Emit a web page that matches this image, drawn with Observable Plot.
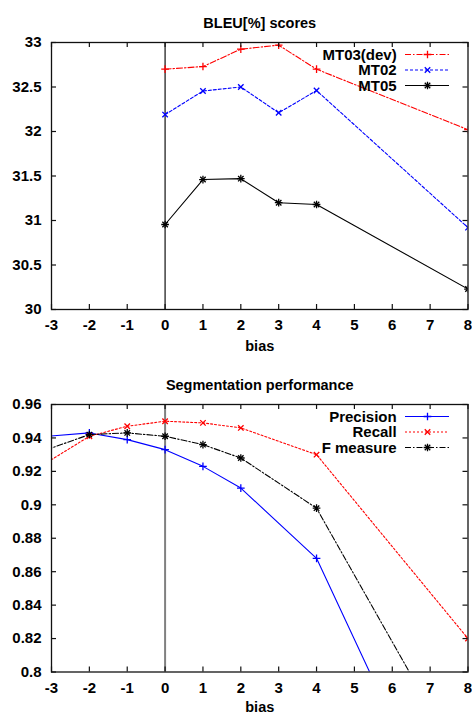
<!DOCTYPE html>
<html><head><meta charset="utf-8">
<script src="https://cdn.jsdelivr.net/npm/d3@7"></script>
<script src="https://cdn.jsdelivr.net/npm/@observablehq/plot@0.6"></script>
<style>
body{margin:0;background:#fff;}
#c svg{display:block;overflow:hidden;}
</style>
</head><body><div id="c"></div>
<script>
// ---- data ----
const xTicks = [-3,-2,-1,0,1,2,3,4,5,6,7,8];

const bleuBias = [0,1,2,3,4,8];
const mt03 = [32.70,32.73,32.925,32.97,32.70,32.02];
const mt02 = [32.19,32.455,32.50,32.21,32.46,30.92];
const mt05 = [30.955,31.46,31.47,31.20,31.18,30.23];
const bleuTicks = [30,30.5,31,31.5,32,32.5,33];

const segBias = [-4,-2,-1,0,1,2,4,8];
const precision = [0.9394,0.943,0.939,0.933,0.923,0.910,0.868,0.674];
const recall    = [0.913,0.941,0.947,0.950,0.949,0.946,0.930,0.820];
const fmeasure  = [0.926,0.942,0.943,0.941,0.936,0.928,0.898,0.738];
const segTicks = [0.8,0.82,0.84,0.86,0.88,0.9,0.92,0.94,0.96];

const FONT = '"Liberation Sans", Arial, Helvetica, sans-serif';
const W = 472, ML = 51, MR = 4.5, MT = 42;
const R = 2.6;

function symbolsFor(kind){
  return kind === "star" ? ["plus","times"] : [kind];
}
function d3Sym(name){ return name === "plus" ? d3.symbolPlus : d3.symbolTimes; }

function panel({title, bias, series, yDomain, yTicks, height, marginBottom, zeroStroke, zeroWidth, biasDy}){
  const plotW = W - ML - MR, plotH = height - MT - marginBottom;
  const marks = [];
  marks.push(Plot.ruleX([0], {stroke: zeroStroke, strokeWidth: zeroWidth}));
  for (const s of series){
    const data = bias.map((b,i) => ({x:b, y:s.values[i]}));
    marks.push(Plot.line(data, {x:"x", y:"y", stroke:s.color, strokeWidth:1.1, strokeDasharray:s.dash, clip:true}));
    for (const sym of symbolsFor(s.symbol))
      marks.push(Plot.dot(data, {x:"x", y:"y", symbol:sym, r:R, stroke:s.color, strokeWidth:1.3, clip:true}));
  }
  marks.push(Plot.frame({stroke:"#111", strokeWidth:1.3}));
  marks.push(Plot.tickX(xTicks, {x:d=>d, insetTop: plotH-5, stroke:"#111", strokeWidth:1.2}));
  marks.push(Plot.tickX(xTicks, {x:d=>d, insetBottom: plotH-5, stroke:"#111", strokeWidth:1.2}));
  marks.push(Plot.tickY(yTicks, {y:d=>d, insetRight: plotW-5, stroke:"#111", strokeWidth:1.2}));
  marks.push(Plot.tickY(yTicks, {y:d=>d, insetLeft: plotW-5, stroke:"#111", strokeWidth:1.2}));
  marks.push(Plot.axisX(xTicks, {tickSize:0, tickPadding:10, fontSize:15, fontWeight:"bold", fontFamily:FONT, tickFormat:d=>String(d), label:null, fill:"#000"}));
  marks.push(Plot.axisY(yTicks, {tickSize:0, tickPadding:10, fontSize:15, fontWeight:"bold", fontFamily:FONT, tickFormat:d=>String(d), label:null, fill:"#000"}));
  marks.push(Plot.text([title], {frameAnchor:"top", dy:-25, fontSize:14.5, fontWeight:"bold", fontFamily:FONT, fill:"#000"}));
  marks.push(Plot.text(["bias"], {frameAnchor:"bottom", dy:biasDy, fontSize:14.5, fontWeight:"bold", fontFamily:FONT, fill:"#000"}));

  const svg = Plot.plot({
    width: W, height,
    marginLeft: ML, marginRight: MR, marginTop: MT, marginBottom,
    x: {domain:[-3,8], axis:null},
    y: {domain:yDomain, axis:null},
    style: {fontFamily: FONT, background:"#fff"},
    marks
  });

  // legend (top-right inside frame)
  const g = d3.select(svg).append("g");
  const right = W - MR;
  series.forEach((s,i) => {
    const cy = MT + 12.5 + 15.5*i;
    g.append("text").attr("x", right-70.8).attr("y", cy).attr("dy","0.35em")
      .attr("text-anchor","end").attr("font-family",FONT).attr("font-size",15)
      .attr("font-weight","bold").attr("fill","#000").text(s.name);
    g.append("line").attr("x1", right-62.5).attr("x2", right-18.5).attr("y1",cy).attr("y2",cy)
      .attr("stroke", s.color).attr("stroke-width",1.1).attr("stroke-dasharray", s.dash || null);
    for (const sym of symbolsFor(s.symbol))
      g.append("path").attr("transform",`translate(${right-40},${cy})`)
        .attr("d", d3.symbol(d3Sym(sym), Math.PI*R*R)()).attr("fill","none")
        .attr("stroke", s.color).attr("stroke-width",1.3);
  });
  return svg;
}

const c = document.getElementById("c");
c.appendChild(panel({
  title:"BLEU[%] scores", bias: bleuBias,
  series:[
    {name:"MT03(dev)", values:mt03, color:"#ff0000", dash:"6,2,1.5,2", symbol:"plus"},
    {name:"MT02", values:mt02, color:"#0000ff", dash:"3,2", symbol:"times"},
    {name:"MT05", values:mt05, color:"#000000", dash:null, symbol:"star"}
  ],
  yDomain:[30,33], yTicks:bleuTicks, height:362, marginBottom:53,
  zeroStroke:"#222", zeroWidth:1.3, biasDy:41
}));
c.appendChild(panel({
  title:"Segmentation performance", bias: segBias,
  series:[
    {name:"Precision", values:precision, color:"#0000ff", dash:null, symbol:"plus"},
    {name:"Recall", values:recall, color:"#ff0000", dash:"2,2", symbol:"times"},
    {name:"F measure", values:fmeasure, color:"#000000", dash:"6,2,1.5,2", symbol:"star"}
  ],
  yDomain:[0.8,0.96], yTicks:segTicks, height:357, marginBottom:47.5,
  zeroStroke:"#808080", zeroWidth:2, biasDy:40
}));
</script>
</body></html>
